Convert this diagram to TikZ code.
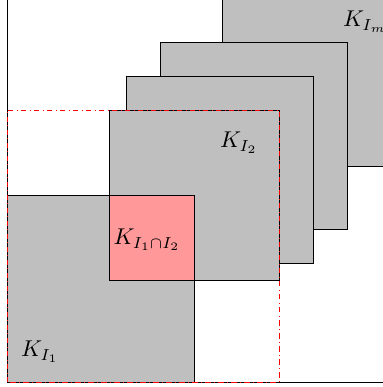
\documentclass[tikz,border=0pt]{standalone}
\usepackage{amssymb}
\tikzset{block/.style={draw,fill=lightgray},
  lbl/.style={scale=1.3}}

\begin{document}
\begin{tikzpicture}

\useasboundingbox (-0.14,-0.1) rectangle (7.52,7.64);
\clip (-0.14,-0.1) rectangle (7.52,7.64);

\draw (0,9) -- (0,0) -- (9,0);

\draw[block] (4.3,4.32) rectangle (8.04,8.06);
\draw[block] (3.06,3.06) rectangle (6.8,6.8);
\draw[block] (2.38,2.38) rectangle (6.12,6.12);
\draw[block] (2.04,2.04) rectangle (5.44,5.44);
\draw[block] (0,0) rectangle (3.74,3.74);
\draw[fill=red!40] (2.04,2.04) rectangle (3.74,3.74);

\draw[red,dash dot] (0,0) rectangle (5.44,5.44);

\node (km) [lbl,anchor=west] at (6.56,7.2) {$K_{I_m}$};
\node (k2) [lbl] at (4.64,4.78) {$K_{I_2}$};
\node (k12) [lbl] at (2.8,2.84) {$K_{I_1\cap I_2}$};
\node (k1) [lbl] at (0.66,0.6) {$K_{I_1}$};

\end{tikzpicture}
\end{document}
